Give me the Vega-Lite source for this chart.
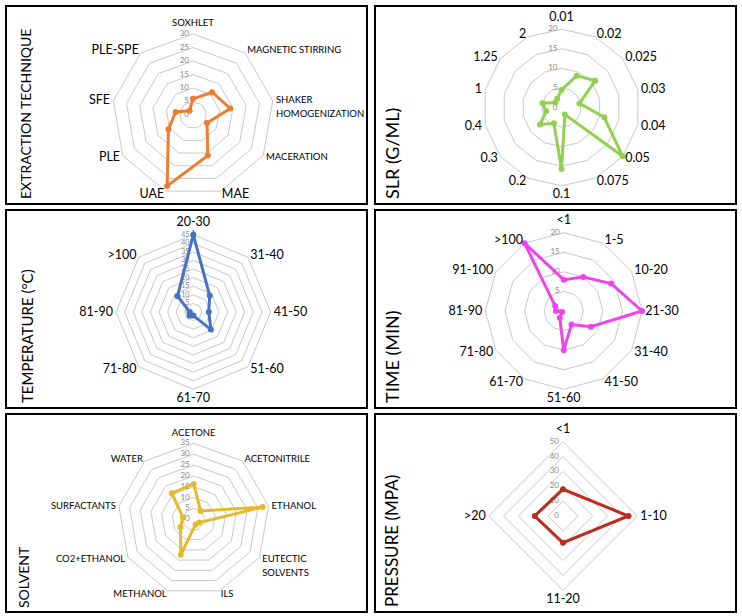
{
 "$schema": "https://vega.github.io/schema/vega-lite/v6.json",
 "padding": {"left": 5, "top": 5, "right": 0, "bottom": 0},
 "background": "white",
 "spacing": 4,
 "config": {"view": {"stroke": "#000000", "strokeWidth": 2}, "font": "Lato"},
 "datasets": {
  "g1": [{"ring": [0,5,10,15,20,25,30], "i": [0,1,2,3,4,5,6,7,8]}],
  "g2": [{"ring": [0,5,10,15,20], "i": [0,1,2,3,4,5,6,7,8,9,10,11,12,13]}],
  "g3": [{"ring": [0,5,10,15,20,25,30,35,40,45], "i": [0,1,2,3,4,5,6,7]}],
  "g4": [{"ring": [0,5,10,15,20], "i": [0,1,2,3,4,5,6,7,8,9,10,11]}],
  "g5": [{"ring": [0,5,10,15,20,25,30,35], "i": [0,1,2,3,4,5,6,7,8]}],
  "g6": [{"ring": [0,10,20,30,40,50], "i": [0,1,2,3]}],
  "d1": [
   {"cat": "Soxhlet", "v": 6},
   {"cat": "Magnetic stirring", "v": 11},
   {"cat": "Shaker\nHomogenization", "v": 14},
   {"cat": "Maceration", "v": 6},
   {"cat": "MAE", "v": 16},
   {"cat": "UAE", "v": 28},
   {"cat": "PLE", "v": 10.5},
   {"cat": "SFE", "v": 6.5},
   {"cat": "PLE-SPE", "v": 2}
  ],
  "d2": [
   {"cat": "0.01", "v": 4.5},
   {"cat": "0.02", "v": 9},
   {"cat": "0.025", "v": 11},
   {"cat": "0.03", "v": 4.7},
   {"cat": "0.04", "v": 11.2},
   {"cat": "0.05", "v": 20},
   {"cat": "0.075", "v": 2},
   {"cat": "0.1", "v": 15.7},
   {"cat": "0.2", "v": 4.5},
   {"cat": "0.3", "v": 7},
   {"cat": "0.4", "v": 4},
   {"cat": "1", "v": 5},
   {"cat": "1.25", "v": 2},
   {"cat": "2", "v": 2.5}
  ],
  "d3": [
   {"cat": "20-30", "v": 45},
   {"cat": "31-40", "v": 13.5},
   {"cat": "41-50", "v": 9},
   {"cat": "51-60", "v": 14.5},
   {"cat": "61-70", "v": 2},
   {"cat": "71-80", "v": 3},
   {"cat": "81-90", "v": 2},
   {"cat": ">100", "v": 13}
  ],
  "d4": [
   {"cat": "<1", "v": 8},
   {"cat": "1-5", "v": 10},
   {"cat": "10-20", "v": 14},
   {"cat": "21-30", "v": 20},
   {"cat": "31-40", "v": 8},
   {"cat": "41-50", "v": 4},
   {"cat": "51-60", "v": 10},
   {"cat": "61-70", "v": 2},
   {"cat": "71-80", "v": 0.5},
   {"cat": "81-90", "v": 2},
   {"cat": "91-100", "v": 2.5},
   {"cat": ">100", "v": 20}
  ],
  "d5": [
   {"cat": "Acetone", "v": 16.3},
   {"cat": "Acetonitrile", "v": 5},
   {"cat": "Ethanol", "v": 32.3},
   {"cat": "Eutectic\nsolvents", "v": 3},
   {"cat": "ILs", "v": 2.5},
   {"cat": "Methanol", "v": 17.4},
   {"cat": "CO2+Ethanol", "v": 7},
   {"cat": "Surfactants", "v": 5},
   {"cat": "Water", "v": 15.7}
  ],
  "d6": [
   {"cat": "<1", "v": 18},
   {"cat": "1-10", "v": 44},
   {"cat": "11-20", "v": 18},
   {"cat": ">20", "v": 19}
  ]
 },
 "vconcat": [
  {"hconcat": [
   {
    "width": 361, "height": 198,
    "title": {"text": "EXTRACTION TECHNIQUE", "orient": "left", "anchor": "start", "offset": -28, "dx": 5, "fontSize": 14, "font": "Lato", "fontWeight": "normal", "color": "#000000"},
    "encoding": {
     "x": {"field": "x", "type": "quantitative", "scale": {"domain": [-2.3086, 2.1481], "nice": false, "zero": false}, "axis": null},
     "y": {"field": "y", "type": "quantitative", "scale": {"domain": [-1.0988, 1.3457], "nice": false, "zero": false}, "axis": null}
    },
    "layer": [
     {"data": {"name": "g1"},
      "transform": [{"flatten": ["ring"]}, {"flatten": ["i"]}, {"filter": "datum.ring > 0"},
       {"calculate": "datum.ring / 30 * sin(2 * PI * datum.i / 9)", "as": "x"},
       {"calculate": "datum.ring / 30 * cos(2 * PI * datum.i / 9)", "as": "y"}],
      "mark": {"type": "line", "interpolate": "linear-closed", "color": "#C8C8C8", "strokeWidth": 1},
      "encoding": {"detail": {"field": "ring", "type": "nominal"}, "order": {"field": "i", "type": "quantitative"}}},
     {"data": {"name": "g1"},
      "transform": [{"flatten": ["ring"]}, {"calculate": "0", "as": "x"}, {"calculate": "datum.ring / 30", "as": "y"}],
      "mark": {"type": "text", "align": "right", "baseline": "middle", "dx": -4, "fontSize": 8, "color": "#888888"},
      "encoding": {"text": {"field": "ring", "type": "quantitative", "format": "d"}}},
     {"data": {"name": "d1"},
      "transform": [{"window": [{"op": "row_number", "as": "k"}]}, {"calculate": "2 * PI * (datum.k - 1) / 9", "as": "a"},
       {"calculate": "datum.v / 30 * sin(datum.a)", "as": "x"}, {"calculate": "datum.v / 30 * cos(datum.a)", "as": "y"}],
      "mark": {"type": "line", "interpolate": "linear-closed", "color": "#ED7D31", "strokeWidth": 3},
      "encoding": {"order": {"field": "k", "type": "quantitative"}}},
     {"data": {"name": "d1"},
      "transform": [{"window": [{"op": "row_number", "as": "k"}]}, {"calculate": "2 * PI * (datum.k - 1) / 9", "as": "a"},
       {"calculate": "datum.v / 30 * sin(datum.a)", "as": "x"}, {"calculate": "datum.v / 30 * cos(datum.a)", "as": "y"}],
      "mark": {"type": "point", "filled": true, "size": 36, "color": "#ED7D31", "opacity": 1}},
     {"data": {"name": "d1"},
      "transform": [{"window": [{"op": "row_number", "as": "k"}]}, {"calculate": "2 * PI * (datum.k - 1) / 9", "as": "a"},
       {"calculate": "cos(datum.a) > 0.95 ? 1.07 : (cos(datum.a) < -0.95 ? 1.03 : 1.04)", "as": "f"},
       {"calculate": "datum.f * sin(datum.a)", "as": "x"}, {"calculate": "datum.f * cos(datum.a)", "as": "y"},
       {"calculate": "upper(datum.cat)", "as": "label"}],
      "mark": {"type": "text", "color": "#000000", "lineBreak": "\n", "lineHeight": 14,
       "align": {"expr": "abs(sin(datum.a)) < 0.05 ? 'center' : (sin(datum.a) > 0 ? 'left' : 'right')"},
       "baseline": {"expr": "cos(datum.a) > 0.95 ? 'bottom' : (cos(datum.a) < -0.95 ? 'top' : 'middle')"},
       "fontSize": {"expr": "datum.cat === upper(datum.cat) ? 12.5 : 9.5"}},
      "encoding": {"text": {"field": "label", "type": "nominal"}}}
    ]
   },
   {
    "width": 361, "height": 198,
    "title": {"text": "SLR (G/ML)", "orient": "left", "anchor": "start", "offset": -28, "dx": 5, "fontSize": 18, "font": "Lato", "fontWeight": "normal", "color": "#000000"},
    "encoding": {
     "x": {"field": "x", "type": "quantitative", "scale": {"domain": [-2.3819, 2.2286], "nice": false, "zero": false}, "axis": null},
     "y": {"field": "y", "type": "quantitative", "scale": {"domain": [-1.2324, 1.2963], "nice": false, "zero": false}, "axis": null}
    },
    "layer": [
     {"data": {"name": "g2"},
      "transform": [{"flatten": ["ring"]}, {"flatten": ["i"]}, {"filter": "datum.ring > 0"},
       {"calculate": "datum.ring / 20 * sin(2 * PI * datum.i / 14)", "as": "x"},
       {"calculate": "datum.ring / 20 * cos(2 * PI * datum.i / 14)", "as": "y"}],
      "mark": {"type": "line", "interpolate": "linear-closed", "color": "#C8C8C8", "strokeWidth": 1},
      "encoding": {"detail": {"field": "ring", "type": "nominal"}, "order": {"field": "i", "type": "quantitative"}}},
     {"data": {"name": "g2"},
      "transform": [{"flatten": ["ring"]}, {"calculate": "0", "as": "x"}, {"calculate": "datum.ring / 20", "as": "y"}],
      "mark": {"type": "text", "align": "right", "baseline": "middle", "dx": -4, "fontSize": 8, "color": "#888888"},
      "encoding": {"text": {"field": "ring", "type": "quantitative", "format": "d"}}},
     {"data": {"name": "d2"},
      "transform": [{"window": [{"op": "row_number", "as": "k"}]}, {"calculate": "2 * PI * (datum.k - 1) / 14", "as": "a"},
       {"calculate": "datum.v / 20 * sin(datum.a)", "as": "x"}, {"calculate": "datum.v / 20 * cos(datum.a)", "as": "y"}],
      "mark": {"type": "line", "interpolate": "linear-closed", "color": "#92D050", "strokeWidth": 3},
      "encoding": {"order": {"field": "k", "type": "quantitative"}}},
     {"data": {"name": "d2"},
      "transform": [{"window": [{"op": "row_number", "as": "k"}]}, {"calculate": "2 * PI * (datum.k - 1) / 14", "as": "a"},
       {"calculate": "datum.v / 20 * sin(datum.a)", "as": "x"}, {"calculate": "datum.v / 20 * cos(datum.a)", "as": "y"}],
      "mark": {"type": "point", "filled": true, "size": 36, "color": "#92D050", "opacity": 1}},
     {"data": {"name": "d2"},
      "transform": [{"window": [{"op": "row_number", "as": "k"}]}, {"calculate": "2 * PI * (datum.k - 1) / 14", "as": "a"},
       {"calculate": "cos(datum.a) > 0.95 ? 1.07 : (cos(datum.a) < -0.95 ? 1.03 : 1.04)", "as": "f"},
       {"calculate": "datum.f * sin(datum.a)", "as": "x"}, {"calculate": "datum.f * cos(datum.a)", "as": "y"},
       {"calculate": "upper(datum.cat)", "as": "label"}],
      "mark": {"type": "text", "color": "#000000", "lineBreak": "\n", "lineHeight": 14,
       "align": {"expr": "abs(sin(datum.a)) < 0.05 ? 'center' : (sin(datum.a) > 0 ? 'left' : 'right')"},
       "baseline": {"expr": "cos(datum.a) > 0.95 ? 'bottom' : (cos(datum.a) < -0.95 ? 'top' : 'middle')"},
       "fontSize": {"expr": "datum.cat === upper(datum.cat) ? 12.5 : 9.5"}},
      "encoding": {"text": {"field": "label", "type": "nominal"}}}
    ]
   }
  ], "spacing": 6},
  {"hconcat": [
   {
    "width": 361, "height": 198,
    "title": {"text": "TEMPERATURE (°C)", "orient": "left", "anchor": "start", "offset": -30, "dx": 5, "fontSize": 15, "font": "Lato", "fontWeight": "normal", "color": "#000000"},
    "encoding": {
     "x": {"field": "x", "type": "quantitative", "scale": {"domain": [-2.4230, 2.2471], "nice": false, "zero": false}, "axis": null},
     "y": {"field": "y", "type": "quantitative", "scale": {"domain": [-1.2419, 1.3195], "nice": false, "zero": false}, "axis": null}
    },
    "layer": [
     {"data": {"name": "g3"},
      "transform": [{"flatten": ["ring"]}, {"flatten": ["i"]}, {"filter": "datum.ring > 0"},
       {"calculate": "datum.ring / 45 * sin(2 * PI * datum.i / 8)", "as": "x"},
       {"calculate": "datum.ring / 45 * cos(2 * PI * datum.i / 8)", "as": "y"}],
      "mark": {"type": "line", "interpolate": "linear-closed", "color": "#C8C8C8", "strokeWidth": 1},
      "encoding": {"detail": {"field": "ring", "type": "nominal"}, "order": {"field": "i", "type": "quantitative"}}},
     {"data": {"name": "g3"},
      "transform": [{"flatten": ["ring"]}, {"calculate": "0", "as": "x"}, {"calculate": "datum.ring / 45", "as": "y"}],
      "mark": {"type": "text", "align": "right", "baseline": "middle", "dx": -4, "fontSize": 7, "color": "#888888"},
      "encoding": {"text": {"field": "ring", "type": "quantitative", "format": "d"}}},
     {"data": {"name": "d3"},
      "transform": [{"window": [{"op": "row_number", "as": "k"}]}, {"calculate": "2 * PI * (datum.k - 1) / 8", "as": "a"},
       {"calculate": "datum.v / 45 * sin(datum.a)", "as": "x"}, {"calculate": "datum.v / 45 * cos(datum.a)", "as": "y"}],
      "mark": {"type": "line", "interpolate": "linear-closed", "color": "#4472C4", "strokeWidth": 3},
      "encoding": {"order": {"field": "k", "type": "quantitative"}}},
     {"data": {"name": "d3"},
      "transform": [{"window": [{"op": "row_number", "as": "k"}]}, {"calculate": "2 * PI * (datum.k - 1) / 8", "as": "a"},
       {"calculate": "datum.v / 45 * sin(datum.a)", "as": "x"}, {"calculate": "datum.v / 45 * cos(datum.a)", "as": "y"}],
      "mark": {"type": "point", "filled": true, "size": 36, "color": "#4472C4", "opacity": 1}},
     {"data": {"name": "d3"},
      "transform": [{"window": [{"op": "row_number", "as": "k"}]}, {"calculate": "2 * PI * (datum.k - 1) / 8", "as": "a"},
       {"calculate": "cos(datum.a) > 0.95 ? 1.07 : (cos(datum.a) < -0.95 ? 1.03 : 1.04)", "as": "f"},
       {"calculate": "datum.f * sin(datum.a)", "as": "x"}, {"calculate": "datum.f * cos(datum.a)", "as": "y"},
       {"calculate": "upper(datum.cat)", "as": "label"}],
      "mark": {"type": "text", "color": "#000000", "lineBreak": "\n", "lineHeight": 14,
       "align": {"expr": "abs(sin(datum.a)) < 0.05 ? 'center' : (sin(datum.a) > 0 ? 'left' : 'right')"},
       "baseline": {"expr": "cos(datum.a) > 0.95 ? 'bottom' : (cos(datum.a) < -0.95 ? 'top' : 'middle')"},
       "fontSize": {"expr": "datum.cat === upper(datum.cat) ? 12.5 : 9.5"}},
      "encoding": {"text": {"field": "label", "type": "nominal"}}}
    ]
   },
   {
    "width": 361, "height": 198,
    "title": {"text": "TIME (MIN)", "orient": "left", "anchor": "start", "offset": -28, "dx": 5, "fontSize": 18, "font": "Lato", "fontWeight": "normal", "color": "#000000"},
    "encoding": {
     "x": {"field": "x", "type": "quantitative", "scale": {"domain": [-2.4100, 2.2005], "nice": false, "zero": false}, "axis": null},
     "y": {"field": "y", "type": "quantitative", "scale": {"domain": [-1.2388, 1.2899], "nice": false, "zero": false}, "axis": null}
    },
    "layer": [
     {"data": {"name": "g4"},
      "transform": [{"flatten": ["ring"]}, {"flatten": ["i"]}, {"filter": "datum.ring > 0"},
       {"calculate": "datum.ring / 20 * sin(2 * PI * datum.i / 12)", "as": "x"},
       {"calculate": "datum.ring / 20 * cos(2 * PI * datum.i / 12)", "as": "y"}],
      "mark": {"type": "line", "interpolate": "linear-closed", "color": "#C8C8C8", "strokeWidth": 1},
      "encoding": {"detail": {"field": "ring", "type": "nominal"}, "order": {"field": "i", "type": "quantitative"}}},
     {"data": {"name": "g4"},
      "transform": [{"flatten": ["ring"]}, {"calculate": "0", "as": "x"}, {"calculate": "datum.ring / 20", "as": "y"}],
      "mark": {"type": "text", "align": "right", "baseline": "middle", "dx": -4, "fontSize": 8, "color": "#888888"},
      "encoding": {"text": {"field": "ring", "type": "quantitative", "format": "d"}}},
     {"data": {"name": "d4"},
      "transform": [{"window": [{"op": "row_number", "as": "k"}]}, {"calculate": "2 * PI * (datum.k - 1) / 12", "as": "a"},
       {"calculate": "datum.v / 20 * sin(datum.a)", "as": "x"}, {"calculate": "datum.v / 20 * cos(datum.a)", "as": "y"}],
      "mark": {"type": "line", "interpolate": "linear-closed", "color": "#EE44EE", "strokeWidth": 3},
      "encoding": {"order": {"field": "k", "type": "quantitative"}}},
     {"data": {"name": "d4"},
      "transform": [{"window": [{"op": "row_number", "as": "k"}]}, {"calculate": "2 * PI * (datum.k - 1) / 12", "as": "a"},
       {"calculate": "datum.v / 20 * sin(datum.a)", "as": "x"}, {"calculate": "datum.v / 20 * cos(datum.a)", "as": "y"}],
      "mark": {"type": "point", "filled": true, "size": 36, "color": "#EE44EE", "opacity": 1}},
     {"data": {"name": "d4"},
      "transform": [{"window": [{"op": "row_number", "as": "k"}]}, {"calculate": "2 * PI * (datum.k - 1) / 12", "as": "a"},
       {"calculate": "cos(datum.a) > 0.95 ? 1.07 : (cos(datum.a) < -0.95 ? 1.03 : 1.04)", "as": "f"},
       {"calculate": "datum.f * sin(datum.a)", "as": "x"}, {"calculate": "datum.f * cos(datum.a)", "as": "y"},
       {"calculate": "upper(datum.cat)", "as": "label"}],
      "mark": {"type": "text", "color": "#000000", "lineBreak": "\n", "lineHeight": 14,
       "align": {"expr": "abs(sin(datum.a)) < 0.05 ? 'center' : (sin(datum.a) > 0 ? 'left' : 'right')"},
       "baseline": {"expr": "cos(datum.a) > 0.95 ? 'bottom' : (cos(datum.a) < -0.95 ? 'top' : 'middle')"},
       "fontSize": {"expr": "datum.cat === upper(datum.cat) ? 12.5 : 9.5"}},
      "encoding": {"text": {"field": "label", "type": "nominal"}}}
    ]
   }
  ], "spacing": 6},
  {"hconcat": [
   {
    "width": 361, "height": 198,
    "title": {"text": "SOLVENT", "orient": "left", "anchor": "start", "offset": -26, "dx": 4, "fontSize": 14, "font": "Lato", "fontWeight": "normal", "color": "#000000"},
    "encoding": {
     "x": {"field": "x", "type": "quantitative", "scale": {"domain": [-2.4697, 2.2803], "nice": false, "zero": false}, "axis": null},
     "y": {"field": "y", "type": "quantitative", "scale": {"domain": [-1.2197, 1.3855], "nice": false, "zero": false}, "axis": null}
    },
    "layer": [
     {"data": {"name": "g5"},
      "transform": [{"flatten": ["ring"]}, {"flatten": ["i"]}, {"filter": "datum.ring > 0"},
       {"calculate": "datum.ring / 35 * sin(2 * PI * datum.i / 9)", "as": "x"},
       {"calculate": "datum.ring / 35 * cos(2 * PI * datum.i / 9)", "as": "y"}],
      "mark": {"type": "line", "interpolate": "linear-closed", "color": "#C8C8C8", "strokeWidth": 1},
      "encoding": {"detail": {"field": "ring", "type": "nominal"}, "order": {"field": "i", "type": "quantitative"}}},
     {"data": {"name": "g5"},
      "transform": [{"flatten": ["ring"]}, {"calculate": "0", "as": "x"}, {"calculate": "datum.ring / 35", "as": "y"}],
      "mark": {"type": "text", "align": "right", "baseline": "middle", "dx": -4, "fontSize": 8, "color": "#888888"},
      "encoding": {"text": {"field": "ring", "type": "quantitative", "format": "d"}}},
     {"data": {"name": "d5"},
      "transform": [{"window": [{"op": "row_number", "as": "k"}]}, {"calculate": "2 * PI * (datum.k - 1) / 9", "as": "a"},
       {"calculate": "datum.v / 35 * sin(datum.a)", "as": "x"}, {"calculate": "datum.v / 35 * cos(datum.a)", "as": "y"}],
      "mark": {"type": "line", "interpolate": "linear-closed", "color": "#E6B92C", "strokeWidth": 3},
      "encoding": {"order": {"field": "k", "type": "quantitative"}}},
     {"data": {"name": "d5"},
      "transform": [{"window": [{"op": "row_number", "as": "k"}]}, {"calculate": "2 * PI * (datum.k - 1) / 9", "as": "a"},
       {"calculate": "datum.v / 35 * sin(datum.a)", "as": "x"}, {"calculate": "datum.v / 35 * cos(datum.a)", "as": "y"}],
      "mark": {"type": "point", "filled": true, "size": 36, "color": "#E6B92C", "opacity": 1}},
     {"data": {"name": "d5"},
      "transform": [{"window": [{"op": "row_number", "as": "k"}]}, {"calculate": "2 * PI * (datum.k - 1) / 9", "as": "a"},
       {"calculate": "cos(datum.a) > 0.95 ? 1.07 : (cos(datum.a) < -0.95 ? 1.03 : 1.04)", "as": "f"},
       {"calculate": "datum.f * sin(datum.a)", "as": "x"}, {"calculate": "datum.f * cos(datum.a)", "as": "y"},
       {"calculate": "upper(datum.cat)", "as": "label"}],
      "mark": {"type": "text", "color": "#000000", "lineBreak": "\n", "lineHeight": 14,
       "align": {"expr": "abs(sin(datum.a)) < 0.05 ? 'center' : (sin(datum.a) > 0 ? 'left' : 'right')"},
       "baseline": {"expr": "cos(datum.a) > 0.95 ? 'bottom' : (cos(datum.a) < -0.95 ? 'top' : 'middle')"},
       "fontSize": {"expr": "datum.cat === upper(datum.cat) ? 12.5 : 9.5"}},
      "encoding": {"text": {"field": "label", "type": "nominal"}}}
    ]
   },
   {
    "width": 361, "height": 198,
    "title": {"text": "PRESSURE (MPA)", "orient": "left", "anchor": "start", "offset": -27, "dx": 5, "fontSize": 17, "font": "Lato", "fontWeight": "normal", "color": "#000000"},
    "encoding": {
     "x": {"field": "x", "type": "quantitative", "scale": {"domain": [-2.5303, 2.3284], "nice": false, "zero": false}, "axis": null},
     "y": {"field": "y", "type": "quantitative", "scale": {"domain": [-1.2921, 1.3728], "nice": false, "zero": false}, "axis": null}
    },
    "layer": [
     {"data": {"name": "g6"},
      "transform": [{"flatten": ["ring"]}, {"flatten": ["i"]}, {"filter": "datum.ring > 0"},
       {"calculate": "datum.ring / 50 * sin(2 * PI * datum.i / 4)", "as": "x"},
       {"calculate": "datum.ring / 50 * cos(2 * PI * datum.i / 4)", "as": "y"}],
      "mark": {"type": "line", "interpolate": "linear-closed", "color": "#C8C8C8", "strokeWidth": 1},
      "encoding": {"detail": {"field": "ring", "type": "nominal"}, "order": {"field": "i", "type": "quantitative"}}},
     {"data": {"name": "g6"},
      "transform": [{"flatten": ["ring"]}, {"calculate": "0", "as": "x"}, {"calculate": "datum.ring / 50", "as": "y"}],
      "mark": {"type": "text", "align": "right", "baseline": "middle", "dx": -4, "fontSize": 8, "color": "#888888"},
      "encoding": {"text": {"field": "ring", "type": "quantitative", "format": "d"}}},
     {"data": {"name": "d6"},
      "transform": [{"window": [{"op": "row_number", "as": "k"}]}, {"calculate": "2 * PI * (datum.k - 1) / 4", "as": "a"},
       {"calculate": "datum.v / 50 * sin(datum.a)", "as": "x"}, {"calculate": "datum.v / 50 * cos(datum.a)", "as": "y"}],
      "mark": {"type": "line", "interpolate": "linear-closed", "color": "#BE2B1F", "strokeWidth": 3},
      "encoding": {"order": {"field": "k", "type": "quantitative"}}},
     {"data": {"name": "d6"},
      "transform": [{"window": [{"op": "row_number", "as": "k"}]}, {"calculate": "2 * PI * (datum.k - 1) / 4", "as": "a"},
       {"calculate": "datum.v / 50 * sin(datum.a)", "as": "x"}, {"calculate": "datum.v / 50 * cos(datum.a)", "as": "y"}],
      "mark": {"type": "point", "filled": true, "size": 36, "color": "#BE2B1F", "opacity": 1}},
     {"data": {"name": "d6"},
      "transform": [{"window": [{"op": "row_number", "as": "k"}]}, {"calculate": "2 * PI * (datum.k - 1) / 4", "as": "a"},
       {"calculate": "cos(datum.a) > 0.95 ? 1.07 : (cos(datum.a) < -0.95 ? 1.03 : 1.04)", "as": "f"},
       {"calculate": "datum.f * sin(datum.a)", "as": "x"}, {"calculate": "datum.f * cos(datum.a)", "as": "y"},
       {"calculate": "upper(datum.cat)", "as": "label"}],
      "mark": {"type": "text", "color": "#000000", "lineBreak": "\n", "lineHeight": 14,
       "align": {"expr": "abs(sin(datum.a)) < 0.05 ? 'center' : (sin(datum.a) > 0 ? 'left' : 'right')"},
       "baseline": {"expr": "cos(datum.a) > 0.95 ? 'bottom' : (cos(datum.a) < -0.95 ? 'top' : 'middle')"},
       "fontSize": {"expr": "datum.cat === upper(datum.cat) ? 12.5 : 9.5"}},
      "encoding": {"text": {"field": "label", "type": "nominal"}}}
    ]
   }
  ], "spacing": 6}
 ]
}
